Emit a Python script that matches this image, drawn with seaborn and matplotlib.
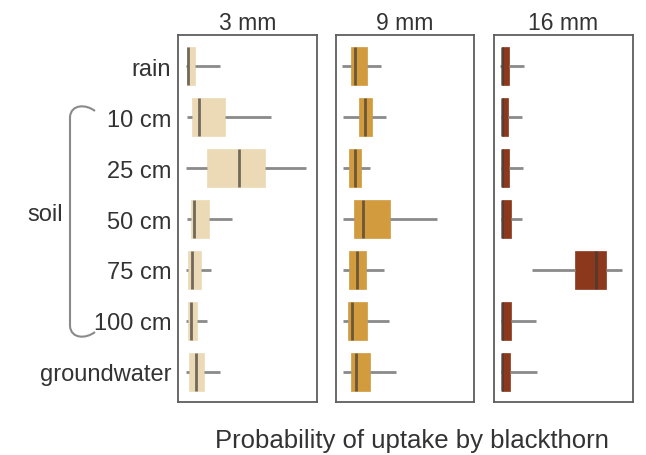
import numpy as np
import pandas as pd
import matplotlib
matplotlib.use("Agg")
import matplotlib.pyplot as plt
from matplotlib.path import Path
from matplotlib.patches import PathPatch
import seaborn as sns

# Water sources (rows) and root-size classes (panels)
categories = ["rain", "10 cm", "25 cm", "50 cm", "75 cm", "100 cm", "groundwater"]
sizes = ["3 mm", "9 mm", "16 mm"]
colors = ["#ECDAB6", "#D19B3E", "#8C381C"]

# Five-number summaries of the uptake probability, one list per statistic
mm3_min = [0.015, 0.020, 0.015, 0.020, 0.015, 0.015, 0.015]
mm3_q1 = [0.020, 0.058, 0.175, 0.050, 0.032, 0.028, 0.040]
mm3_med = [0.032, 0.113, 0.414, 0.075, 0.058, 0.050, 0.090]
mm3_q3 = [0.083, 0.308, 0.609, 0.188, 0.128, 0.095, 0.150]
mm3_max = [0.271, 0.652, 0.917, 0.361, 0.203, 0.171, 0.271]

mm9_min = [0.000, 0.010, 0.010, 0.005, 0.010, 0.005, 0.005]
mm9_q1 = [0.065, 0.128, 0.055, 0.090, 0.055, 0.043, 0.065]
mm9_med = [0.098, 0.175, 0.098, 0.160, 0.115, 0.075, 0.103]
mm9_q3 = [0.186, 0.231, 0.141, 0.366, 0.180, 0.193, 0.216]
mm9_max = [0.293, 0.336, 0.216, 0.717, 0.318, 0.356, 0.406]

mm16_min = [0.000, 0.005, 0.005, 0.005, 0.238, 0.005, 0.005]
mm16_q1 = [0.013, 0.013, 0.013, 0.013, 0.564, 0.013, 0.013]
mm16_med = [0.014, 0.014, 0.014, 0.014, 0.722, 0.014, 0.014]
mm16_q3 = [0.068, 0.058, 0.068, 0.083, 0.797, 0.083, 0.075]
mm16_max = [0.180, 0.168, 0.171, 0.168, 0.915, 0.271, 0.276]

summaries = {
    "3 mm": (mm3_min, mm3_q1, mm3_med, mm3_q3, mm3_max),
    "9 mm": (mm9_min, mm9_q1, mm9_med, mm9_q3, mm9_max),
    "16 mm": (mm16_min, mm16_q1, mm16_med, mm16_q3, mm16_max),
}

# Long-form table: five values per box reproduce the summary exactly
rows = []
for size, stats in summaries.items():
    for i, cat in enumerate(categories):
        for s in stats:
            rows.append({"size": size, "source": cat, "prob": s[i]})
df = pd.DataFrame(rows)

sns.set_theme(style="white")
plt.rcParams["font.family"] = ["Liberation Sans", "DejaVu Sans"]
TEXT = "#333333"

W, H = 646, 456
fig = plt.figure(figsize=(W / 100, H / 100), dpi=100)

panel_px = [(178, 317), (336, 474), (494, 633)]
top_px, bot_px = 36, 403

for k, (size, color) in enumerate(zip(sizes, colors)):
    l, r = panel_px[k]
    ax = fig.add_axes([l / W, 1 - bot_px / H, (r - l) / W, (bot_px - top_px) / H])
    sns.boxplot(
        data=df[df["size"] == size], x="prob", y="source", order=categories,
        orient="h", color=color, saturation=1, width=0.75, whis=(0, 100),
        showcaps=False, showfliers=False, linecolor="#8a8a8a", linewidth=2,
        medianprops=dict(color="#3f3a36", linewidth=2, alpha=0.7),
        whiskerprops=dict(color="#8a8a8a", linewidth=2),
        ax=ax,
    )
    for p in ax.patches:
        p.set_edgecolor(color)
        p.set_linewidth(0.5)
    ax.set_xlim(-0.045, 1.0)
    ax.set_ylim(6.59, -0.61)
    ax.set_xticks([])
    ax.set_xlabel("")
    ax.set_ylabel("")
    ax.set_title(size, fontsize=16.5, color=TEXT, pad=4)
    for sp in ax.spines.values():
        sp.set_visible(True)
        sp.set_color("#5e5e5e")
        sp.set_linewidth(1.3)
    if k == 0:
        ax.tick_params(axis="y", length=0, pad=5, labelsize=17, labelcolor=TEXT)
    else:
        ax.set_yticks([])

fig.text(412 / W, 1 - 441 / H, "Probability of uptake by blackthorn",
         ha="center", va="center", fontsize=18.5, color=TEXT)

# Brace grouping the soil depths
def px(x, y):
    return (x / W, 1 - y / H)

verts = [px(95, 112), px(86, 105), px(71, 105), px(70, 118),
         px(70, 327),
         px(71, 340), px(86, 340), px(95, 333)]
codes = [Path.MOVETO, Path.CURVE4, Path.CURVE4, Path.CURVE4,
         Path.LINETO,
         Path.CURVE4, Path.CURVE4, Path.CURVE4]
fig.add_artist(PathPatch(Path(verts, codes), transform=fig.transFigure,
                         fill=False, edgecolor="#8a8a8a", linewidth=1.5))
fig.text(63 / W, 1 - 215 / H, "soil", ha="right", va="center",
         fontsize=17, color=TEXT)

fig.savefig("out.png", dpi=100)
